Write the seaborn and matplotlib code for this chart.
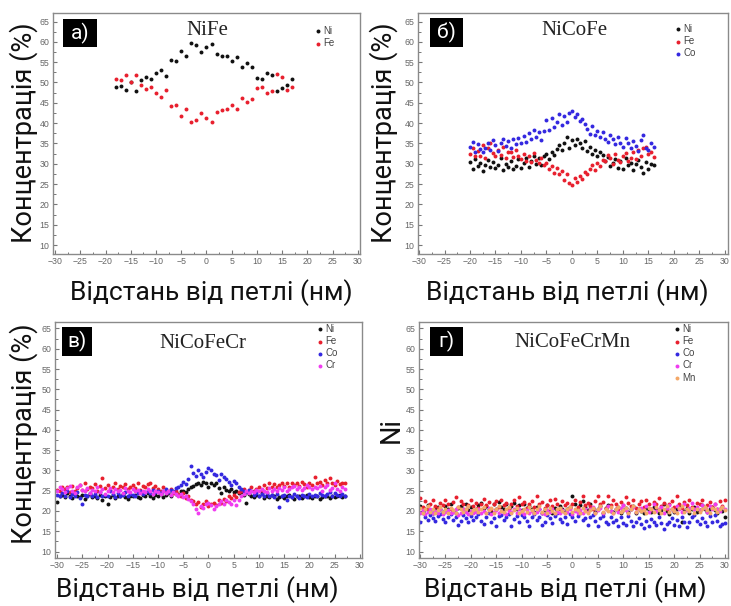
import numpy as np
import pandas as pd
import matplotlib
matplotlib.use("Agg")
import matplotlib.pyplot as plt
from matplotlib.ticker import AutoMinorLocator
from matplotlib.patches import Rectangle
import seaborn as sns

# ---------------- DATA ----------------
# Panel а) NiFe
x_a = [-18, -17, -16, -15, -14, -13, -12, -11, -10, -9, -8, -7, -6, -5, -4, -3, -2, -1,
       0, 1, 2, 3, 4, 5, 6, 7, 8, 9, 10, 11, 12, 13, 14, 15, 16, 17]
ni_a = [49.0, 49.1, 48.2, 50.2, 48.0, 50.6, 51.4, 50.8, 52.4, 53.1, 51.6, 55.6, 55.3, 57.8,
        56.4, 59.7, 59.3, 57.4, 58.7, 59.5, 57.0, 56.5, 56.4, 55.2, 56.2, 53.7, 54.7, 53.9,
        51.2, 50.8, 52.3, 51.8, 48.0, 48.6, 49.4, 50.8]
fe_a = [50.9, 50.6, 51.9, 50.0, 51.9, 49.4, 48.3, 49.0, 47.4, 46.5, 48.2, 44.2, 44.4, 41.8,
        43.6, 40.3, 40.8, 42.4, 41.3, 40.4, 42.8, 43.2, 43.4, 44.5, 43.6, 46.3, 45.1, 45.9,
        48.6, 49.0, 47.5, 48.0, 52.1, 51.3, 48.2, 48.8]

# Panel б) NiCoFe  (x from -20 to 16 nm, step 0.5)
x_b = np.arange(-20.0, 16.01, 0.5)
ni_b = [30.5, 28.6, 31.2, 29.4, 30.1, 28.3, 29.8, 31.0, 29.2, 30.4,
        28.9, 29.7, 31.3, 28.4, 30.0, 29.1, 30.8, 28.7, 29.5, 31.1, 29.0,
        30.2, 31.4, 29.3, 30.6, 32.0, 30.0, 31.5, 29.6, 31.8,
        32.4, 31.2, 33.0, 32.2, 33.6,
        34.5, 33.4, 35.2, 36.6, 34.0, 35.8, 34.6, 36.0, 35.1, 33.8, 35.5,
        33.2, 34.1, 32.5, 33.4, 31.8, 33.0, 32.2,
        30.8, 31.6, 29.5, 30.2, 31.2, 29.0, 30.6, 28.8, 31.4, 29.6,
        30.3, 28.5, 29.9, 31.0, 29.2, 27.8, 30.4, 28.6, 30.0, 29.7]
fe_b = [32.5, 34.0, 31.8, 33.2, 32.0, 34.5, 31.5, 33.8, 35.2, 32.6,
        31.9, 33.5, 32.2, 34.1, 31.4, 33.0, 32.8, 31.6, 33.3, 32.0, 31.2,
        32.4, 30.8, 31.9, 30.5, 32.6, 31.0, 30.2, 31.5, 29.8,
        30.1, 28.6, 29.4, 27.8, 29.0,
        27.4, 28.2, 26.0, 27.6, 25.2, 24.8, 26.4, 25.6, 27.0, 26.2, 28.0,
        27.5, 28.8, 29.6, 28.4, 30.2, 29.4, 31.0,
        30.6, 32.2, 31.4, 30.0, 32.5, 31.0, 30.4, 31.8, 32.6, 30.8,
        31.5, 32.8, 31.2, 33.4, 32.0, 33.8, 34.2, 32.5, 33.0, 31.6]
co_b = [34.2, 35.4, 33.0, 34.8, 33.6, 32.8, 34.0, 35.2, 33.4, 35.8,
        34.6, 33.2, 35.0, 36.2, 34.4, 35.6, 33.8, 36.0, 34.8, 36.4, 35.2,
        36.8, 35.4, 37.6, 36.2, 38.2, 36.6, 37.8, 35.8, 38.0,
        40.8, 38.4, 41.2, 39.0, 40.2,
        42.2, 39.6, 41.8, 40.4, 42.6, 43.0, 41.4, 42.2, 40.6, 41.0, 39.8,
        38.6, 37.4, 39.2, 37.0, 38.0, 36.6, 37.8,
        36.2, 35.4, 37.2, 36.0, 34.8, 36.6, 35.2, 34.2, 36.4, 35.0,
        33.8, 35.6, 34.4, 33.2, 35.8, 37.0, 34.0, 33.4, 35.0, 34.2]

# Panel в) NiCoFeCr  (x from -30 to 27 nm, step 0.5)
x_c = np.arange(-30.0, 27.01, 0.5)
ni_c = [22.2, 23.8, 24.0, 23.4, 24.4, 23.6, 23.2, 24.2, 23.8, 23.4,
        24.0, 23.0, 23.6, 24.2, 23.4, 23.8, 23.2, 24.0, 22.8, 23.6,
        21.6, 23.4, 24.0, 23.2, 23.8, 23.6, 24.2, 23.4, 23.0, 23.8,
        23.6, 24.0, 23.4, 23.2, 24.0, 23.6, 24.4, 23.8, 23.2, 24.0,
        23.8, 24.2, 23.4, 24.0, 24.4, 23.8, 24.6, 24.2,
        24.2, 24.8, 25.0, 24.6, 25.4, 25.8, 26.2, 26.6, 27.0, 26.4, 27.2, 26.8, 26.0,
        27.0, 26.4, 26.8, 25.6, 24.4, 25.8, 25.2, 24.8, 25.4, 24.6, 25.0, 24.4,
        24.6, 24.0, 22.0, 24.2, 23.8, 23.4, 24.0, 23.6, 24.4, 23.2,
        23.8, 23.4, 24.0, 23.6, 23.0, 23.4, 23.8, 23.2, 23.6, 24.0,
        23.4, 23.0, 23.6, 23.8, 23.2, 23.6, 24.0, 23.4, 23.2, 23.8,
        23.6, 23.0, 23.4, 23.8, 23.6, 23.2, 23.8, 23.4, 23.6, 24.0,
        23.4, 23.8]
fe_c = [25.2, 24.8, 26.0, 25.4, 25.8, 24.6, 26.2, 25.0, 25.6, 26.4,
        25.2, 26.8, 25.4, 26.0, 25.6, 26.6, 25.0, 26.2, 28.2, 25.6,
        26.4, 25.2, 26.0, 26.8, 25.4, 26.2, 25.8, 26.6, 25.4, 26.0,
        26.4, 25.6, 26.8, 25.2, 26.2, 25.8, 26.6, 27.0, 25.6, 26.2,
        25.4, 24.8, 25.8, 25.0, 24.6, 25.4, 24.4, 25.0,
        24.2, 23.6, 24.4, 23.2, 23.8, 22.8, 22.4, 21.6, 22.2, 21.0, 21.8, 22.4, 21.2,
        21.6, 22.0, 21.4, 22.6, 22.0, 23.0, 22.4, 23.6, 23.2, 24.0, 23.4, 24.6,
        24.8, 25.4, 24.6, 25.2, 25.8, 24.8, 25.4, 26.0, 25.2, 26.4,
        25.6, 26.8, 26.0, 26.6, 25.8, 26.4, 27.0, 26.2, 26.8, 25.8,
        27.0, 26.4, 26.8, 26.2, 27.2, 26.6, 26.0, 27.0, 26.4, 28.4,
        26.8, 27.2, 26.4, 27.6, 26.8, 28.2, 27.0, 26.4, 27.4, 26.6,
        27.0, 26.8]
co_c = [24.0, 23.6, 24.4, 23.8, 24.8, 23.4, 24.2, 23.6, 24.6, 23.2,
        21.8, 24.0, 23.6, 24.4, 23.8, 24.2, 23.4, 24.6, 23.8, 24.0,
        23.6, 24.8, 24.2, 23.4, 24.4, 23.8, 24.0, 24.6, 23.6, 24.2,
        24.0, 23.8, 24.4, 24.8, 24.2, 24.6, 25.0, 24.4, 25.2, 24.6,
        25.0, 24.4, 24.8, 25.4, 24.6, 25.2, 24.8, 25.6,
        25.8, 26.4, 27.2, 26.6, 28.0, 31.0, 29.4, 28.6, 30.0, 29.0, 28.4, 29.6, 30.6,
        30.2, 29.2, 28.8, 27.6, 29.0, 28.4, 27.8, 27.2, 26.4, 27.4, 26.8, 25.8,
        25.4, 25.0, 24.6, 25.2, 24.8, 24.0, 24.4, 23.8, 24.2, 23.6,
        24.4, 23.8, 24.0, 23.4, 24.2, 21.0, 23.6, 24.0, 22.6, 23.8,
        23.4, 24.2, 23.6, 23.2, 24.0, 23.8, 23.4, 24.2, 23.6, 24.0,
        23.8, 24.4, 24.0, 23.6, 24.2, 24.6, 23.8, 24.4, 24.0, 23.6,
        24.2, 23.8]
cr_c = [24.8, 26.0, 25.4, 24.6, 25.6, 26.2, 25.0, 24.4, 25.8, 26.4,
        25.2, 24.8, 25.6, 24.4, 25.2, 24.8, 25.8, 24.6, 25.4, 24.2,
        25.0, 25.6, 24.6, 25.4, 24.8, 25.2, 24.4, 25.6, 25.0, 24.6,
        25.4, 24.8, 25.2, 24.4, 25.0, 24.6, 25.4, 24.8, 24.2, 25.0,
        24.6, 24.2, 25.0, 24.4, 24.8, 24.0, 24.6, 24.2,
        23.8, 24.2, 23.4, 23.8, 23.0, 22.4, 21.6, 20.6, 19.6, 21.2, 20.8, 21.6, 22.0,
        21.4, 20.6, 21.2, 21.8, 22.4, 21.6, 22.8, 22.2, 21.8, 22.6, 21.4, 22.8,
        23.6, 24.2, 24.8, 24.4, 25.0, 24.6, 25.2, 24.8, 25.4, 25.0,
        24.6, 25.6, 25.0, 25.4, 24.8, 25.6, 25.2, 25.8, 25.0, 25.4,
        25.8, 26.2, 25.4, 26.0, 25.2, 25.6, 26.4, 25.8, 25.4, 26.0,
        25.6, 26.2, 25.0, 25.8, 26.4, 25.2, 25.6, 26.8, 25.4, 25.0,
        25.8, 25.4]

# Panel г) NiCoFeCrMn  (x from -30 to 30 nm, step 0.5)
x_d = np.arange(-30.0, 30.01, 0.5)
ni_d = [21.2, 19.8, 20.6, 21.4, 20.2, 19.6, 20.8, 21.0, 20.4, 19.8, 21.2,
        20.6, 21.6, 20.0, 19.4, 20.8, 21.2, 20.4, 21.8, 20.2, 21.0, 19.8,
        20.6, 21.4, 22.0, 20.8, 21.2, 20.4, 19.8, 21.6, 20.6, 22.2, 21.0,
        20.4, 21.8, 20.8, 21.2, 22.0, 20.6, 21.4, 20.2, 21.6, 20.8, 21.2,
        20.4, 19.8, 21.0, 20.6, 19.6, 20.2, 21.4, 20.0, 19.4, 20.8, 20.2,
        21.2, 20.6, 19.8, 20.4, 21.0, 23.6, 21.8, 20.6, 21.4, 22.4, 21.0,
        20.2, 21.6, 20.8, 19.8, 20.4, 21.2, 19.6, 20.8, 21.4, 20.0, 19.8,
        20.6, 21.0, 19.4, 20.2, 20.8, 19.8, 20.4, 21.2, 19.6, 20.6, 20.0,
        19.4, 20.8, 20.2, 19.8, 21.0, 20.4, 19.6, 20.2, 21.6, 20.0, 19.2,
        20.6, 19.8, 20.4, 21.2, 17.4, 20.0, 20.8, 19.6, 20.4, 21.0, 19.8,
        20.2, 21.4, 20.6, 19.8, 20.4, 21.0, 20.2, 19.6, 20.6, 20.0, 18.4]
fe_d = [23.2, 21.0, 22.4, 20.6, 21.8, 22.6, 21.2, 20.8, 22.0, 21.4, 22.8,
        21.6, 20.4, 22.2, 23.4, 21.0, 22.4, 21.8, 20.6, 21.4, 22.6, 21.2,
        22.0, 20.8, 21.6, 23.0, 21.4, 22.2, 20.6, 21.8, 22.4, 21.0, 22.8,
        21.4, 22.0, 20.6, 21.8, 22.6, 21.2, 23.4, 21.6, 22.2, 20.8, 21.6,
        22.4, 21.0, 23.8, 21.6, 22.2, 20.8, 21.4, 22.6, 21.2, 23.0, 21.8,
        20.6, 22.4, 21.4, 22.0, 20.8, 21.6, 22.6, 21.0, 22.2, 23.6, 21.4,
        22.0, 21.2, 20.6, 22.4, 23.8, 21.6, 22.2, 20.8, 23.8, 21.4, 22.6,
        21.8, 20.6, 22.2, 21.4, 23.4, 22.0, 21.2, 22.6, 20.8, 21.6, 22.4,
        21.0, 22.8, 21.6, 20.4, 22.2, 21.8, 23.2, 21.2, 22.0, 20.6, 21.6,
        22.4, 21.0, 23.8, 21.6, 20.8, 22.2, 21.4, 22.8, 21.0, 20.6, 22.0,
        21.6, 22.6, 20.8, 21.4, 22.2, 21.0, 21.8, 20.6, 22.4, 21.2, 22.8]
co_d = [17.2, 19.4, 18.6, 17.8, 19.0, 18.2, 17.6, 18.8, 19.2, 18.0, 17.4,
        18.6, 19.2, 17.8, 18.4, 16.6, 17.6, 19.0, 18.2, 17.4, 18.8, 17.8,
        18.4, 19.2, 17.6, 16.8, 18.6, 19.4, 17.4, 18.2, 16.4, 18.8, 19.0,
        17.8, 18.4, 19.2, 16.2, 18.0, 18.8, 17.2, 19.0, 18.4, 17.6, 16.4,
        18.6, 19.2, 17.8, 18.4, 16.6, 17.4, 19.0, 18.2, 17.0, 18.8, 19.4,
        18.0, 17.2, 18.6, 16.8, 19.2, 18.4, 17.6, 18.8, 19.4, 17.8, 18.2,
        16.6, 18.4, 19.0, 17.6, 16.4, 18.2, 18.8, 17.2, 16.8, 18.6, 17.4,
        17.8, 16.2, 18.4, 17.0, 16.6, 18.8, 17.6, 16.2, 17.4, 18.2, 16.8,
        15.8, 17.6, 16.4, 18.0, 17.2, 16.6, 18.4, 17.0, 15.6, 16.8, 17.4,
        18.2, 16.6, 17.8, 16.2, 18.6, 17.4, 16.0, 17.2, 18.4, 19.0, 17.6,
        16.8, 18.2, 17.4, 16.4, 18.8, 17.2, 19.0, 17.6, 16.2, 16.8, 17.0]
cr_d = [19.6, 20.2, 19.2, 19.8, 20.4, 19.4, 20.0, 19.6, 20.6, 19.2, 19.8,
        20.2, 19.4, 19.8, 20.6, 19.0, 19.6, 20.4, 19.8, 19.2, 20.0, 19.6,
        19.8, 20.4, 19.4, 20.0, 19.6, 20.8, 19.2, 19.8, 20.2, 19.4, 20.0,
        19.6, 19.2, 20.0, 19.8, 20.4, 19.4, 20.6, 19.8, 19.2, 20.2, 19.6,
        20.0, 19.4, 19.8, 20.4, 19.6, 19.2, 20.2, 19.8, 20.6, 19.4, 19.8,
        19.6, 20.2, 19.4, 19.8, 20.4, 19.2, 20.0, 19.6, 20.2, 19.4, 20.6,
        19.8, 20.4, 21.0, 19.6, 20.2, 20.8, 19.4, 20.6, 21.2, 20.0, 19.6,
        20.4, 19.8, 20.8, 21.4, 20.2, 19.6, 20.6, 21.0, 19.8, 20.4, 20.8,
        20.2, 21.2, 19.8, 20.6, 21.6, 20.0, 20.4, 21.0, 19.6, 20.8, 21.4,
        20.6, 20.0, 21.2, 20.4, 19.8, 21.6, 20.2, 20.8, 22.0, 20.4, 21.0,
        20.2, 21.4, 20.8, 19.8, 21.2, 20.6, 21.8, 20.4, 20.0, 21.0, 20.6]
mn_d = [20.8, 19.6, 20.4, 21.2, 19.8, 20.6, 19.4, 20.2, 21.0, 19.8, 20.4,
        19.6, 20.8, 20.2, 19.4, 21.0, 20.4, 19.8, 20.6, 21.2, 19.6, 20.2,
        20.6, 19.8, 20.4, 21.0, 19.6, 20.2, 20.8, 19.4, 20.6, 21.2, 20.0,
        19.8, 20.4, 21.0, 19.6, 20.2, 20.8, 19.4, 20.0, 20.6, 19.8, 21.0,
        20.2, 19.6, 20.6, 21.2, 19.8, 20.4, 19.4, 20.8, 20.0, 19.6, 20.4,
        20.8, 20.0, 19.6, 20.4, 21.0, 19.8, 20.6, 20.2, 19.4, 20.8, 20.0,
        19.6, 20.2, 20.8, 19.4, 20.6, 21.2, 19.8, 20.4, 20.0, 21.0, 19.6,
        20.4, 21.0, 19.8, 20.2, 20.8, 19.6, 20.4, 21.2, 19.8, 20.6, 20.0,
        20.2, 19.6, 20.8, 20.4, 19.8, 21.0, 20.2, 19.6, 20.6, 21.2, 19.8,
        20.6, 20.0, 19.6, 20.8, 21.2, 19.8, 20.4, 20.0, 20.8, 19.6, 20.4,
        19.8, 20.6, 21.0, 20.2, 19.6, 20.8, 20.4, 19.8, 20.6, 21.0, 20.2]

titles = ["NiFe", "NiCoFe", "NiCoFeCr", "NiCoFeCrMn"]
panel_tags = ["а)", "б)", "в)", "г)"]
ylabels = ["Концентрація (%)", "Концентрація (%)", "Концентрація (%)", "Ni"]
xlabel = "Відстань від петлі (нм)"
xticks = [-30, -25, -20, -15, -10, -5, 0, 5, 10, 15, 20, 25, 30]
yticks = [10, 15, 20, 25, 30, 35, 40, 45, 50, 55, 60, 65]

colors = {"Ni": "#111111", "Fe": "#e8202e", "Co": "#3428e0", "Cr": "#f03cf0", "Mn": "#f4a868"}

panels = [
    [("Ni", x_a, ni_a), ("Fe", x_a, fe_a)],
    [("Ni", x_b, ni_b), ("Fe", x_b, fe_b), ("Co", x_b, co_b)],
    [("Ni", x_c, ni_c), ("Fe", x_c, fe_c), ("Co", x_c, co_c), ("Cr", x_c, cr_c)],
    [("Ni", x_d, ni_d), ("Fe", x_d, fe_d), ("Co", x_d, co_d), ("Cr", x_d, cr_d), ("Mn", x_d, mn_d)],
]

# ---------------- STYLE / LAYOUT ----------------
sns.set_theme(style="ticks")
plt.rcParams["font.family"] = ["Roboto", "DejaVu Sans"]

W, H = 731, 606
fig = plt.figure(figsize=(W / 100, H / 100), dpi=100)
fig.patch.set_facecolor("white")

def fx(px):
    return px / W

def fy(py):
    return 1 - py / H

# axes boxes in pixels: left, top, right, bottom
boxes = [(53, 13, 360, 254), (418, 13, 728, 254), (55, 322, 362, 558), (419, 322, 728, 558)]
xlims = [(-30.4, 30.4), (-30.2, 30.6), (-30.4, 30.4), (-30.2, 30.6)]
ylims = [(7.8, 67.1), (7.8, 67.1), (8.4, 66.6), (8.4, 66.6)]
title_pos = [(207, 35), (574, 35), (203, 348), (572, 347)]
tag_boxes = [(63, 19, 97, 47), (430, 18, 463, 47), (62, 327, 92, 356), (430, 327, 463, 356)]
legend_pos = [(313, 26), (673, 24), (315, 324), (672, 324)]
ylabel_pos = [(31.7, 133), (391.7, 133), (31.7, 434), (398.3, 430)]
xlabel_pos = [(211, 300), (567, 300), (197, 597), (565, 597)]

for i, (l, t, r, b) in enumerate(boxes):
    ax = fig.add_axes([fx(l), fy(b), (r - l) / W, (b - t) / H])
    for name, xs, ys in panels[i]:
        df = pd.DataFrame({"x": xs, "y": ys})
        sns.scatterplot(data=df, x="x", y="y", color=colors[name], s=8,
                        linewidth=0, ax=ax, label=name)
    ax.set_xlim(*xlims[i])
    ax.set_ylim(*ylims[i])
    ax.set_xticks(xticks)
    ax.set_yticks(yticks)
    ax.xaxis.set_minor_locator(AutoMinorLocator(2))
    ax.yaxis.set_minor_locator(AutoMinorLocator(2))
    ax.tick_params(which="major", direction="in", length=3, width=0.8, color="#777777",
                   labelsize=6.3, labelcolor="#666666", pad=2.5)
    ax.tick_params(which="minor", direction="in", length=1.8, width=0.7, color="#777777")
    ax.set_xlabel("")
    ax.set_ylabel("")
    for sp in ax.spines.values():
        sp.set_visible(True)
        sp.set_color("#8a8a8a")
        sp.set_linewidth(1.0)
    for lab in ax.get_xticklabels() + ax.get_yticklabels():
        lab.set_family(["Liberation Sans", "DejaVu Sans"])

    lx, ly = legend_pos[i]
    ax.legend(loc="upper left", bbox_to_anchor=(fx(lx), fy(ly)), bbox_transform=fig.transFigure,
              frameon=False, handletextpad=0.1, labelspacing=0.22,
              handlelength=1.0, borderpad=0, borderaxespad=0, markerscale=1.0,
              labelcolor="#444444", prop={"family": ["Liberation Sans"], "size": 7})

    # title
    tx, ty = title_pos[i]
    fig.text(fx(tx), fy(ty), titles[i], ha="center", va="baseline",
             fontsize=15, family=["Liberation Serif"], color="#222222")

    # panel tag box
    bl, bt, br, bb = tag_boxes[i]
    fig.patches.append(Rectangle((fx(bl), fy(bb)), (br - bl) / W, (bb - bt) / H,
                                 transform=fig.transFigure, facecolor="black",
                                 edgecolor="none", zorder=5))
    fig.text(fx((bl + br) / 2), fy((bt + bb) / 2), panel_tags[i], ha="center", va="center",
             fontsize=15, color="white", zorder=6)

    # axis labels
    yx, yy = ylabel_pos[i]
    fig.text(fx(yx), fy(yy), ylabels[i], rotation=90, rotation_mode="anchor",
             ha="center", va="baseline", fontsize=19.5, color="#111111")
    xx, xy = xlabel_pos[i]
    fig.text(fx(xx), fy(xy), xlabel, ha="center", va="baseline", fontsize=19, color="#111111")

fig.savefig("out.png", dpi=100, facecolor="white")
